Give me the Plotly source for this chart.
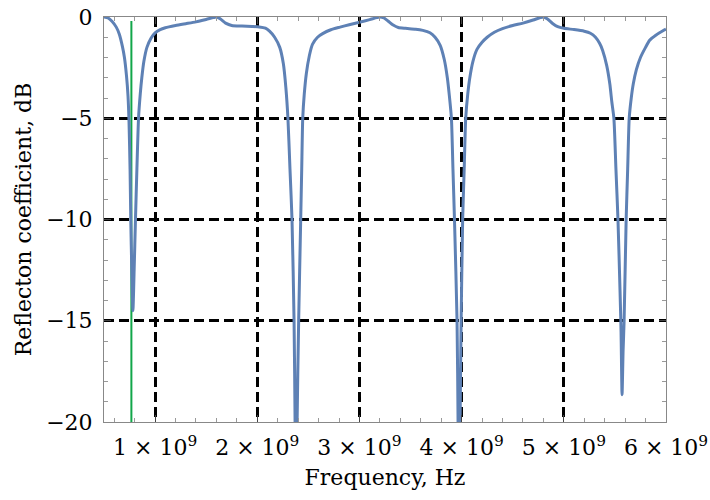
import plotly.graph_objects as go

# Frequency (GHz) and reflection coefficient (dB)
freq_ghz = [0.50, 0.54, 0.58, 0.62, 0.65, 0.68, 0.70, 0.72, 0.735, 0.745, 0.755, 0.762,
            0.772, 0.783, 0.795, 0.808, 0.822, 0.838, 0.855, 0.87, 0.89, 0.92, 0.96,
            1.00, 1.05, 1.10, 1.20, 1.30, 1.40, 1.50, 1.57, 1.60, 1.64, 1.69, 1.75,
            1.85, 1.95, 2.02, 2.08, 2.12, 2.17, 2.22, 2.255, 2.28, 2.30, 2.32, 2.34,
            2.36, 2.37, 2.38, 2.39, 2.405, 2.425, 2.435, 2.445, 2.46, 2.48, 2.51, 2.54,
            2.59, 2.64, 2.72, 2.81, 2.90, 3.00, 3.10, 3.17, 3.20, 3.24, 3.28, 3.33,
            3.38, 3.45, 3.55, 3.62, 3.69, 3.74, 3.79, 3.83, 3.86, 3.88, 3.90, 3.915,
            3.93, 3.955, 3.965, 3.975, 3.985, 3.995, 4.01, 4.025, 4.04, 4.06, 4.08,
            4.11, 4.15, 4.20, 4.25, 4.32, 4.40, 4.50, 4.60, 4.70, 4.77, 4.80, 4.84,
            4.89, 4.94, 5.00, 5.10, 5.20, 5.26, 5.31, 5.35, 5.38, 5.42, 5.45, 5.47,
            5.49, 5.51, 5.53, 5.55, 5.56, 5.57, 5.58, 5.59, 5.61, 5.625, 5.64, 5.66,
            5.68, 5.71, 5.75, 5.80, 5.84, 5.90, 5.97, 6.00]
refl_db = [0.00, -0.05, -0.22, -0.50, -0.85, -1.45, -2.00, -2.90, -3.9, -5.2, -7.5, -10.0,
           -12.5, -14.5, -12.5, -10.0, -7.5, -5.0, -3.8, -3.0, -2.2, -1.5, -1.05,
           -0.78, -0.62, -0.53, -0.42, -0.33, -0.24, -0.12, -0.03, 0.00, -0.1, -0.3, -0.42,
           -0.45, -0.47, -0.49, -0.55, -0.7, -1.0, -1.5, -2.3, -3.5, -5.0, -7.5, -10.0,
           -15.0, -20.0, -30.0, -20.0, -15.0, -10.0, -7.5, -5.0, -3.8, -2.8, -1.9, -1.35,
           -1.0, -0.82, -0.63, -0.5, -0.38, -0.26, -0.13, -0.03, 0.00, -0.05, -0.2, -0.4,
           -0.52, -0.56, -0.6, -0.66, -0.78, -1.0, -1.4, -2.1, -3.0, -3.9, -5.0, -7.5,
           -10.0, -15.0, -20.0, -30.0, -20.0, -15.0, -10.0, -7.5, -5.0, -3.8, -3.0,
           -2.2, -1.6, -1.25, -1.0, -0.75, -0.57, -0.42, -0.3, -0.15, -0.03, 0.00, -0.1,
           -0.32, -0.48, -0.56, -0.62, -0.7, -0.8, -1.0, -1.3, -1.65, -2.4, -3.3, -4.2,
           -5.0, -7.5, -10.0, -13.5, -15.5, -18.65, -16.5, -15.0, -10.0, -7.5, -5.0, -4.0,
           -3.3, -2.6, -2.0, -1.5, -1.15, -0.9, -0.68, -0.6]

marker_freq_ghz = 0.768          # green vertical line
marker_db = [-20.0, -0.2]

x_tick_vals = [1, 2, 3, 4, 5, 6]
x_tick_text = [f"{v} × 10<sup>9</sup>" for v in x_tick_vals]
y_tick_vals = [0, -5, -10, -15, -20]
y_tick_text = ["0", "−5", "−10", "−15", "−20"]

freq_hz = [f * 1e9 for f in freq_ghz]

fig = go.Figure()
fig.add_trace(go.Scatter(
    x=[marker_freq_ghz * 1e9] * 2, y=marker_db, mode="lines",
    line=dict(color="#12a64a", width=2), showlegend=False, hoverinfo="skip"))
fig.add_trace(go.Scatter(
    x=freq_hz, y=refl_db, mode="lines",
    line=dict(color="#5e81b5", width=3, shape="spline", smoothing=0.6), showlegend=False))

font_family = "DejaVu Serif"
axis_common = dict(
    showline=True, linecolor="#888888", linewidth=1, mirror="allticks",
    ticks="inside", ticklen=7, tickcolor="#444444", tickwidth=1,
    showgrid=True, gridcolor="black", gridwidth=2.5, griddash="10px,5px",
    zeroline=False, tickfont=dict(family=font_family, size=22, color="black"),
    ticklabelstandoff=6,
)

fig.update_xaxes(
    range=[0.5e9, 6e9], tickmode="array",
    tickvals=[v * 1e9 for v in x_tick_vals], ticktext=x_tick_text,
    minor=dict(dtick=0.2e9, tick0=0, ticks="inside", ticklen=4, tickcolor="#999999", showgrid=False),
    title=dict(text="Frequency, Hz", font=dict(family=font_family, size=22, color="black"), standoff=10),
    **axis_common)
fig.update_yaxes(
    range=[-20, 0], tickmode="array",
    tickvals=y_tick_vals, ticktext=y_tick_text,
    minor=dict(dtick=1, tick0=0, ticks="inside", ticklen=4, tickcolor="#999999", showgrid=False),
    title=dict(text="Reflecton coefficient, dB", font=dict(family=font_family, size=22, color="black"), standoff=8),
    **axis_common)

fig.update_layout(
    width=710, height=500,
    margin=dict(l=104, r=44, t=17, b=78, autoexpand=False),
    plot_bgcolor="white", paper_bgcolor="white",
)

fig.write_html("out.html")
